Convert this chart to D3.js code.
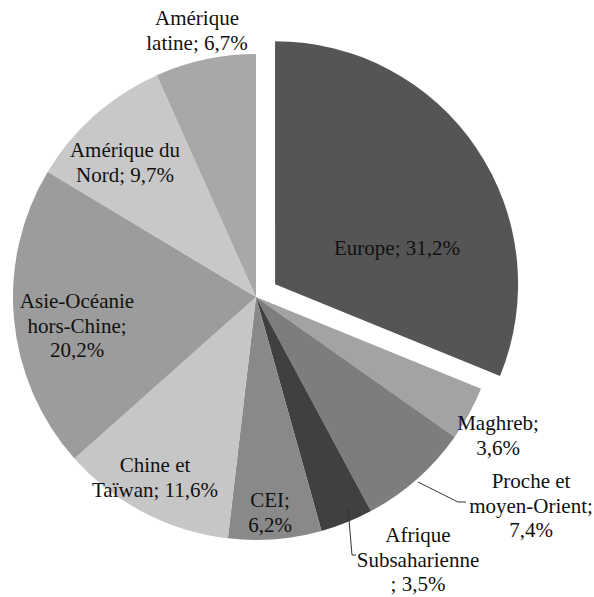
<!DOCTYPE html>
<html>
<head>
<meta charset="utf-8">
<script src="https://cdn.jsdelivr.net/npm/d3@7"></script>
</head>
<body style="margin:0">
<svg id="chart" width="594" height="597"></svg>
<script>
// Regions, in clockwise order starting at 12 o'clock
const regions = ["Europe", "Maghreb", "Proche et moyen-Orient", "Afrique Subsaharienne", "CEI",
                 "Chine et Ta\u00efwan", "Asie-Oc\u00e9anie hors-Chine", "Am\u00e9rique du Nord", "Am\u00e9rique latine"];
// Share of the total, in percent
const shares = [31.2, 3.6, 7.4, 3.5, 6.2, 11.6, 20.2, 9.7, 6.7];
// Label text, one entry per line
const labelLines = [
  ["Europe; 31,2%"],
  ["Maghreb;", "3,6%"],
  ["Proche et", "moyen-Orient;", "7,4%"],
  ["Afrique", "Subsaharienne", "; 3,5%"],
  ["CEI;", "6,2%"],
  ["Chine et", "Ta\u00efwan; 11,6%"],
  ["Asie-Oc\u00e9anie", "hors-Chine;", "20,2%"],
  ["Am\u00e9rique du", "Nord; 9,7%"],
  ["Am\u00e9rique", "latine; 6,7%"]
];
const fills = ["#555555", "#a3a3a3", "#7d7d7d", "#404040", "#898989",
               "#c6c6c6", "#9c9c9c", "#c8c8c8", "#a8a8a8"];

// Layout
const cx = 256, cy = 297, radius = 243, explode = 23;
const lineH = 24.5;
const fontFamily = "Liberation Serif";
const baseSize = 28, textScale = 0.75;   // 21px text
// label anchor (centre x, first baseline y)
const labelAnchor = [
  [397, 255], [498, 430], [531, 488], [418, 542], [270, 507],
  [155, 472], [77, 308], [125, 157], [197, 25]
];
// leader lines for labels placed outside the pie
const leaders = {
  2: [[418, 482], [458, 502], [466, 502]],
  3: [[348, 508], [352, 555], [356, 555]]
};

const data = regions.map((r, i) => ({ region: r, value: shares[i], i }));
const pie = d3.pie().sort(null).value(d => d.value);
const arc = d3.arc().innerRadius(0).outerRadius(radius);

const svg = d3.select("#chart");
const g = svg.append("g").attr("transform", `translate(${cx},${cy})`);

const arcs = pie(data);
g.selectAll("path.slice")
  .data(arcs)
  .join("path")
  .attr("d", arc)
  .attr("fill", d => fills[d.data.i])
  .attr("transform", d => {
    if (d.data.i !== 0) return null;
    const mid = (d.startAngle + d.endAngle) / 2;
    return `translate(${explode * Math.sin(mid)},${-explode * Math.cos(mid)})`;
  });

// leader lines
const line = d3.line();
Object.values(leaders).forEach(pts => {
  svg.append("path")
    .attr("d", line(pts))
    .attr("fill", "none")
    .attr("stroke", "#333")
    .attr("stroke-width", 1);
});

// labels: one text element per line
const lines = data.flatMap(d => labelLines[d.i].map((t, j) => ({ t, j, i: d.i })));
svg.selectAll("text")
  .data(lines)
  .join("text")
  .attr("transform", d =>
    `translate(${labelAnchor[d.i][0]},${labelAnchor[d.i][1] + d.j * lineH}) scale(${textScale})`)
  .attr("font-family", fontFamily)
  .attr("font-size", baseSize)
  .attr("fill", "#111")
  .attr("text-anchor", "middle")
  .text(d => d.t);
</script>
</body>
</html>
